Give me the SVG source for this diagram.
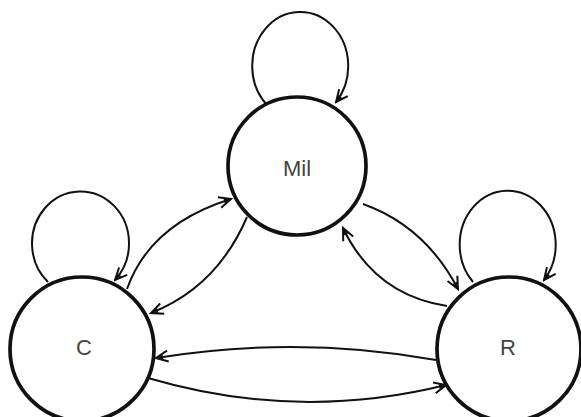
<svg xmlns="http://www.w3.org/2000/svg" width="581" height="417" viewBox="0 0 581 417">
<style>
.node{fill:#fff;stroke:#111;stroke-width:3.7}
.lbl{font-family:"Liberation Sans",Arial,sans-serif;font-size:22px;fill:#444;text-anchor:middle;dominant-baseline:central}
.edge{fill:none;stroke:#111;stroke-width:2;marker-end:url(#arr)}
</style>
<defs>
<marker id="arr" markerUnits="userSpaceOnUse" markerWidth="16" markerHeight="14" viewBox="0 0 16 14" refX="14" refY="7" orient="auto">
<path d="M2,1.5 L14,7 L2,12.5" fill="none" stroke="#111" stroke-width="2" stroke-linejoin="miter"/>
<path d="M7,4.5 L14,7 L7,9.5 z" fill="#111"/>
</marker>
</defs>
<rect width="581" height="417" fill="#fff"/>
<g id="connectors">
<path class="edge" d="M267,105 A48,54 0 1 1 336,102"/>
<path class="edge" d="M48,282 A48.5,52 0 1 1 115,280"/>
<path class="edge" d="M473,282 A48,54 0 1 1 544,280"/>
<path class="edge" d="M127,289 Q150,224 231,199"/>
<path class="edge" d="M247,217 Q217,287 151,313"/>
<path class="edge" d="M363,204 Q425,226 458,289"/>
<path class="edge" d="M447,306 Q375,295 343,228"/>
<path class="edge" d="M436,360 Q298,335 156,358"/>
<path class="edge" d="M148,378 Q297,422 446,385"/>
</g>
<g id="node-mil">
<circle class="node" cx="297" cy="166" r="69"/>
<text class="lbl" x="297" y="168">Mil</text>
</g>
<g id="node-c">
<circle class="node" cx="82" cy="349" r="72"/>
<text class="lbl" x="84" y="347">C</text>
</g>
<g id="node-r">
<circle class="node" cx="509" cy="349" r="72"/>
<text class="lbl" x="508" y="347">R</text>
</g>
</svg>
